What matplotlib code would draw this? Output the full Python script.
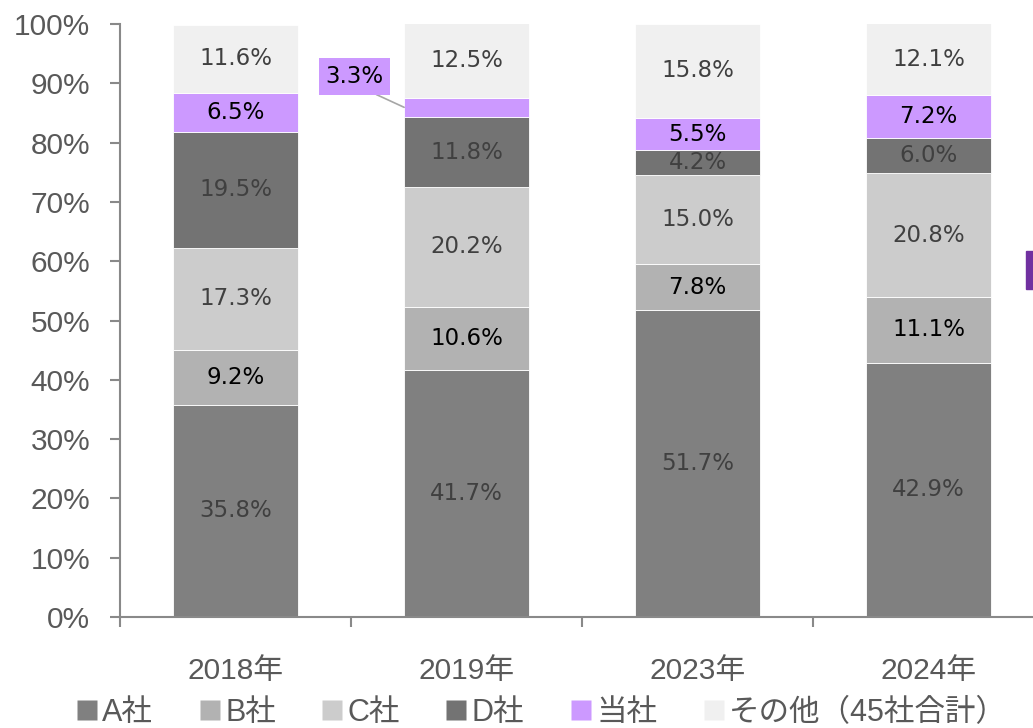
import matplotlib.pyplot as plt
import matplotlib.patches as mpatches
from matplotlib.lines import Line2D
import numpy as np

plt.rcParams['font.family'] = ['DejaVu Sans', 'Noto Sans CJK JP']
axis_font = ['Liberation Sans', 'Noto Sans CJK JP']

years = ["2018年", "2019年", "2023年", "2024年"]
series = ["A社", "B社", "C社", "D社", "当社", "その他（45社合計）"]
a_share = [35.8, 41.7, 51.7, 42.9]
b_share = [9.2, 10.6, 7.8, 11.1]
c_share = [17.3, 20.2, 15.0, 20.8]
d_share = [19.5, 11.8, 4.2, 6.0]
own_share = [6.5, 3.3, 5.5, 7.2]
other_share = [11.6, 12.5, 15.8, 12.1]

colors = ["#808080", "#B2B2B2", "#CCCCCC", "#737373", "#CC99FF", "#F0F0F0"]
label_colors = ["#404040", "#000000", "#404040", "#404040", "#000000", "#404040"]
values = [a_share, b_share, c_share, d_share, own_share, other_share]

fig = plt.figure(figsize=(10.33, 7.28), dpi=100)
ax = fig.add_axes([120 / 1033, 111 / 728, 924 / 1033, 593 / 728])

x = np.arange(len(years))
width = 0.54
bottom = np.zeros(len(years))
for vals, col, lc, name in zip(values, colors, label_colors, series):
    vals = np.array(vals)
    ax.bar(x, vals, width, bottom=bottom, color=col, edgecolor="white",
           linewidth=0.6, label=name)
    for i, v in enumerate(vals):
        if name == "当社" and i == 1:
            continue
        ax.text(x[i], bottom[i] + v / 2, f"{v:.1f}%", ha="center", va="center",
                fontsize=16.5, color=lc)
    bottom += vals

# callout label for the thin 2019 segment
own_mid = a_share[1] + b_share[1] + c_share[1] + d_share[1] + own_share[1] / 2
ax.annotate(f"{own_share[1]:.1f}%", xy=(1 - width / 2, own_mid), xytext=(0.515, 91.2),
            ha="center", va="center", fontsize=16.5, color="black",
            bbox=dict(boxstyle="square,pad=0.3", fc="#CC99FF", ec="none"),
            arrowprops=dict(arrowstyle="-", color="#A6A6A6", lw=1.2,
                            relpos=(0.62, 0.0), shrinkA=0, shrinkB=0))

ax.set_xlim(-0.5, 3.5)
ax.set_ylim(0, 100)
ax.set_yticks(np.arange(0, 101, 10))
ax.set_yticklabels([f"{t}%" for t in range(0, 101, 10)], family=axis_font)
ax.set_xticks(x)
ax.set_xticklabels(years, family=axis_font)
ax.set_xticks(np.arange(-0.5, 4.0, 1.0), minor=True)
ax.tick_params(axis="x", which="major", length=0, pad=29, labelsize=21.5, labelcolor="#595959")
ax.tick_params(axis="x", which="minor", length=7.5, width=1.5, color="#898989")
ax.tick_params(axis="y", length=7.5, width=1.5, color="#898989", labelsize=21.5,
               labelcolor="#595959", pad=14)

for s in ["top", "right"]:
    ax.spines[s].set_visible(False)
for s in ["left", "bottom"]:
    ax.spines[s].set_color("#898989")
    ax.spines[s].set_linewidth(1.5)

handles = [Line2D([0], [0], marker="s", color="none", markerfacecolor=c,
                  markeredgecolor="none", markersize=15) for c in colors]
fig.legend(handles, series, loc="center", bbox_to_anchor=(0.525, 0.021), ncol=6,
           frameon=False, prop={"family": axis_font, "size": 22}, handlelength=0.6,
           handletextpad=0.2, columnspacing=1.55, labelcolor="#595959",
           borderpad=0, borderaxespad=0)

# cut-off decoration at right edge
fig.add_artist(mpatches.Rectangle((1026 / 1033, 439 / 728), 10 / 1033, 38 / 728,
                                  transform=fig.transFigure, color="#7030A0"))

fig.savefig("out.png", dpi=100)
